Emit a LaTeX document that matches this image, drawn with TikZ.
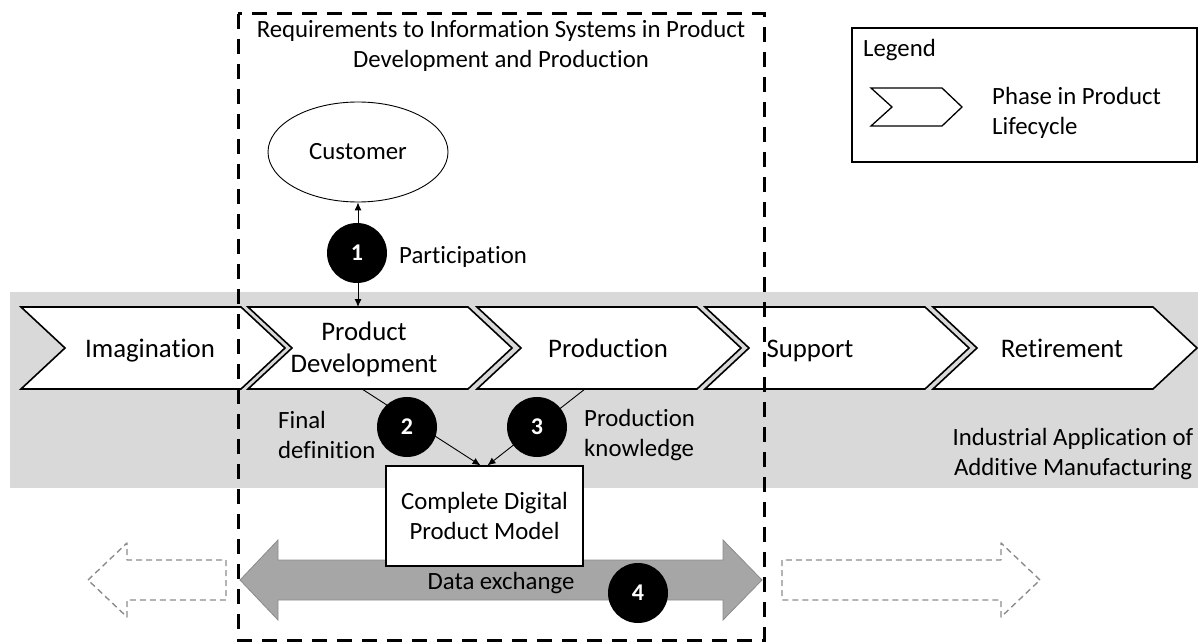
\documentclass[tikz,border=0pt]{standalone}
\usepackage{fontspec}
\setmainfont{Carlito}[Ligatures=NoCommon]
\usetikzlibrary{arrows.meta,shapes.geometric}
\definecolor{bandgray}{HTML}{D9D9D9}
\definecolor{arrowfill}{HTML}{A6A6A6}
\definecolor{arrowedge}{HTML}{8C8C8C}
\definecolor{ghostgray}{HTML}{8C8C8C}
\newcommand\lbltxt{\fontsize{24.8}{30}\selectfont}
\newcommand\phasefont{\fontsize{26.8}{32}\selectfont}
\begin{document}
\begin{tikzpicture}[x=1pt,y=-1pt,
  phase/.style={draw=black,fill=white,line width=1.6pt,line join=miter},
  phaselabel/.style={font=\phasefont,align=center,inner sep=0pt},
  oneline/.style={text height=0.7em,text depth=0.2em},
  lbl/.style={font=\lbltxt,align=left,inner sep=0pt},
  numdot/.style={circle,fill=black,minimum size=60pt,inner sep=0pt,text=white,
    font=\fontsize{24}{28}\selectfont\bfseries},
  link/.style={line width=0.9pt},
  ghost/.style={draw=ghostgray,line width=1.4pt,dash pattern=on 6pt off 4pt,line join=round},
  smalltip/.style={-{Latex[length=8pt,width=7pt]}}
]
\useasboundingbox (0,0) rectangle (1198,644);

% lifecycle band
\fill[bandgray] (10,292) rectangle (1198,488);

% neighbouring data exchange (outlined, dashed)
\draw[ghost] (88,580) -- (127,543) -- (127,560) -- (226,560) -- (226,600)
  -- (127,600) -- (127,617) -- cycle;
\draw[ghost] (1040,580) -- (1001,543) -- (1001,560) -- (782,560) -- (782,600)
  -- (1001,600) -- (1001,617) -- cycle;

% data exchange double arrow
\draw[fill=arrowfill,draw=arrowedge,line width=0.8pt]
  (240,580) -- (278,540) -- (278,560) -- (723,560) -- (723,540) -- (762,580)
  -- (723,620) -- (723,600) -- (278,600) -- (278,620) -- cycle;
\node[font=\lbltxt,oneline,inner sep=0pt] (dx) at (501,587) {Data exchange};

% lifecycle phases
\foreach \L in {21,248,477,705,933}
  \draw[phase] (\L,307) -- ++(220,0) -- ++(44,41) -- ++(-44,41) -- ++(-220,0)
    -- ++(44,-41) -- cycle;
\node[phaselabel,oneline] (imag) at (150,355) {Imagination};
\node[phaselabel] (pd) at (364,349) {Product\\Development};
\node[phaselabel,oneline] (prod) at (608,355) {Production};
\node[phaselabel,oneline] (supp) at (810,355) {Support};
\node[phaselabel,oneline] (retire) at (1062,355) {Retirement};
\coordinate (pdhead) at (357,307);
\coordinate (pdfoot) at (362,389);
\coordinate (prodfoot) at (585,389);

% customer
\node[ellipse,draw,line width=0.9pt,minimum width=180pt,minimum height=100pt,
  inner sep=0pt,font=\lbltxt] (cust) at (358,152) {Customer};

% complete digital product model
\node[draw,fill=white,line width=1.2pt,minimum width=197pt,minimum height=100pt,
  align=center,font=\lbltxt,inner sep=0pt] (cdpm) at (484.5,516)
  {Complete Digital\\Product Model};

% connectors
\draw[link,{Latex[length=8pt,width=7pt]}-{Latex[length=8pt,width=7pt]}]
  (cust.south) -- (cust.south |- pdhead);
\draw[link,smalltip] (pdfoot) -- ([xshift=-4pt]cdpm.north);
\draw[link,smalltip] (prodfoot) -- ([xshift=3pt]cdpm.north);

% numbered markers
\node[numdot] (n1) at (357,253) {1};
\node[numdot] (n2) at (407,427) {2};
\node[numdot] (n3) at (537,427) {3};
\node[numdot] (n4) at (638,593) {4};

% labels
\node[lbl,anchor=west,oneline] (part) at (399,261) {Participation};
\node[lbl,anchor=west] (findef) at (278,435) {Final\\definition};
\node[lbl,anchor=west] (prodk) at (584,435) {Production\\knowledge};
\node[lbl,align=center] (amtext) at (1073,454)
  {Industrial Application of\\Additive Manufacturing};

% scope of the requirements
\draw[line width=3pt,dash pattern=on 15pt off 10pt] (238,14) rectangle (764,640);
\node[font=\lbltxt,align=center,inner sep=0pt] (title) at (501,46)
  {Requirements to Information Systems in Product\\Development and Production};

% legend
\draw[line width=1.2pt] (852,28) rectangle (1197,162);
\node[lbl,anchor=west] (legendhead) at (863,50) {Legend};
\draw[line width=1.3pt,line join=miter] (871,88) -- (942,88) -- (962,107)
  -- (942,126) -- (871,126) -- (892,107) -- cycle;
\node[lbl,anchor=west] (legendtext) at (992,113) {Phase in Product\\Lifecycle};
\end{tikzpicture}
\end{document}
